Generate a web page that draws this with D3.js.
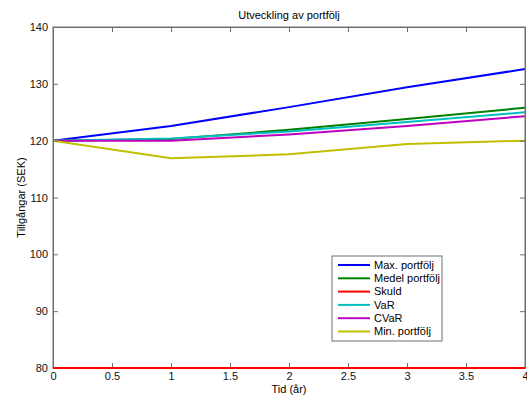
<!DOCTYPE html>
<html lang="sv">
<head>
    <meta charset="UTF-8">
    <title>Utveckling av portfölj</title>
    <script src="https://d3js.org/d3.v7.min.js" charset="utf-8"></script>
    <style>
        body { margin: 0; background: white; }
        text { font-family: "Liberation Sans", Arial, sans-serif; }
    </style>
</head>
<body>
<script>
    // data
    var years = [0, 1, 2, 3, 4];
    var maxPortf = [120, 122.6, 125.9, 129.4, 132.6];
    var medelPortf = [120, 120.3, 121.9, 123.8, 125.8];
    var skuld = [80, 80, 80, 80, 80];
    var varSeries = [120, 120.4, 121.6, 123.3, 125.0];
    var cvarSeries = [120, 120.0, 121.1, 122.6, 124.3];
    var minPortf = [120, 116.9, 117.6, 119.4, 120.0];

    var seriesNames = ["Max. portfölj", "Medel portfölj", "Skuld", "VaR", "CVaR", "Min. portfölj"];
    var seriesColors = ["#0000ff", "#008000", "#ff0000", "#00bfbf", "#bf00bf", "#bfbf00"];
    var seriesValues = [maxPortf, medelPortf, skuld, varSeries, cvarSeries, minPortf];

    var xTicks = [0, 0.5, 1, 1.5, 2, 2.5, 3, 3.5, 4];
    var yTicks = [80, 90, 100, 110, 120, 130, 140];

    var width = 527, height = 397;
    // plot box edges (note: "top" is reserved on window, so use other names)
    var boxL = 53, boxR = 525, boxT = 27, boxB = 368;

    var svg = d3.select("body").append("svg")
        .attr("width", width)
        .attr("height", height);

    var x = d3.scaleLinear().domain([0, 4]).range([boxL, boxR]);
    var y = d3.scaleLinear().domain([80, 140]).range([boxB, boxT]);

    var axisColor = "#6e6e6e";

    // lines
    var line = d3.line()
        .x(function (d, i) { return x(years[i]); })
        .y(function (d) { return y(d); });

    svg.append("g").selectAll("path")
        .data(seriesValues)
        .enter()
        .append("path")
        .attr("fill", "none")
        .attr("stroke", function (d, i) { return seriesColors[i]; })
        .attr("stroke-width", 2)
        .attr("d", line);

    // box
    svg.append("rect")
        .attr("x", boxL).attr("y", boxT)
        .attr("width", boxR - boxL).attr("height", boxB - boxT)
        .attr("fill", "none")
        .attr("stroke", axisColor);

    // axes with inward ticks
    var xAxis = svg.append("g")
        .attr("transform", "translate(0," + boxB + ")")
        .call(d3.axisBottom(x).tickValues(xTicks).tickSizeInner(-5).tickSizeOuter(0).tickPadding(5)
            .tickFormat(d3.format("")));
    var yAxis = svg.append("g")
        .attr("transform", "translate(" + boxL + ",0)")
        .call(d3.axisLeft(y).tickValues(yTicks).tickSizeInner(-5).tickSizeOuter(0).tickPadding(5));
    svg.append("g")
        .attr("transform", "translate(0," + boxT + ")")
        .call(d3.axisTop(x).tickValues(xTicks).tickSizeInner(-5).tickSizeOuter(0).tickFormat(""));
    svg.append("g")
        .attr("transform", "translate(" + boxR + ",0)")
        .call(d3.axisRight(y).tickValues(yTicks).tickSizeInner(-5).tickSizeOuter(0).tickFormat(""));

    svg.selectAll(".domain").attr("stroke", axisColor);
    svg.selectAll(".tick line").attr("stroke", axisColor);
    svg.selectAll(".tick text").attr("fill", "#111").style("font-size", "11px");
    xAxis.selectAll(".tick text").attr("dy", "0.6em");

    // redraw the Skuld line on top of the bottom axis
    svg.append("path")
        .datum(skuld)
        .attr("fill", "none")
        .attr("stroke", seriesColors[2])
        .attr("stroke-width", 2)
        .attr("d", line);

    // titles
    svg.append("text")
        .attr("x", (boxL + boxR) / 2).attr("y", 19)
        .attr("text-anchor", "middle")
        .style("font-size", "11px")
        .text("Utveckling av portfölj");

    svg.append("text")
        .attr("x", (boxL + boxR) / 2).attr("y", 393)
        .attr("text-anchor", "middle")
        .style("font-size", "11px")
        .text("Tid (år)");

    svg.append("text")
        .attr("transform", "translate(25," + ((boxT + boxB) / 2) + ") rotate(-90)")
        .attr("text-anchor", "middle")
        .style("font-size", "11px")
        .text("Tillgångar (SEK)");

    // legend
    var legend = svg.append("g").attr("transform", "translate(332,256)");
    legend.append("rect")
        .attr("width", 110).attr("height", 85)
        .attr("fill", "white")
        .attr("stroke", axisColor);

    var rows = legend.selectAll("g.row")
        .data(seriesNames)
        .enter()
        .append("g")
        .attr("class", "row")
        .attr("transform", function (d, i) { return "translate(0," + (9 + i * 13.3) + ")"; });

    rows.append("line")
        .attr("x1", 6).attr("x2", 38)
        .attr("stroke", function (d, i) { return seriesColors[i]; })
        .attr("stroke-width", 2);

    rows.append("text")
        .attr("x", 42).attr("dy", "0.35em")
        .style("font-size", "11px")
        .text(function (d) { return d; });
</script>
</body>
</html>
